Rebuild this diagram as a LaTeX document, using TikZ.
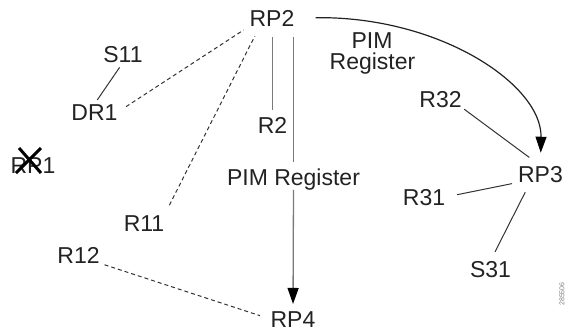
\documentclass[tikz,border=0pt]{standalone}
\usepackage{fontspec}
\setmainfont{Liberation Sans}
\usetikzlibrary{arrows.meta}
\definecolor{txt}{HTML}{222222}
\definecolor{ln}{HTML}{333333}
\definecolor{lg}{HTML}{7A7A7A}
\begin{document}
\begin{tikzpicture}[x=1pt,y=-1pt,
  lbl/.style={inner sep=0pt,anchor=base,font=\fontsize{23}{26}\selectfont,text=txt},
  link/.style={draw=ln,line width=1pt},
  dlink/.style={link,dash pattern=on 4pt off 3pt},
  glink/.style={draw=lg,line width=1.3pt},
  tipped/.style={-{Triangle[length=16pt,width=11pt,color=black]}}]
\useasboundingbox (0,0) rectangle (570,335);
% labels
\node[lbl] (RP2) at (272,26) {RP2};
\node[lbl] (S11) at (123,62) {S11};
\node[lbl] (DR1) at (94.5,120) {DR1};
\node[lbl] (R2) at (272.5,133) {R2};
\node[lbl] (RP1) at (33,173) {RP1};
\node[lbl] (pimR) at (293.5,185) {PIM Register};
\node[lbl] (R11) at (144,231) {R11};
\node[lbl] (R12) at (78.5,263) {R12};
\node[lbl] (RP4) at (293,327) {RP4};
\node[lbl] (pimA) at (372,48) {PIM};
\node[lbl] (pimB) at (372.5,69) {Register};
\node[lbl] (R32) at (440.5,107) {R32};
\node[lbl] (RP3) at (540.5,182) {RP3};
\node[lbl] (R31) at (424,205) {R31};
\node[lbl] (S31) at (490.5,277) {S31};
\node[inner sep=0pt,rotate=90,font=\fontsize{7}{8}\selectfont,text=gray] (fig) at (562,294) {285506};
% crossed-out RP1
\draw[black,line width=3pt] (19,148) -- (41,173);
\draw[black,line width=3pt] (41,148) -- (16,173);
% connectors
\draw[link,shorten <=6pt,shorten >=5pt] (S11.south) -- (DR1.north);
\draw[dlink,shorten <=10pt,shorten >=7pt] (DR1.east) -- (RP2.south west);
\draw[dlink,shorten <=11pt,shorten >=11pt] (R11.north east) -- (RP2.214);
\draw[glink,shorten <=11pt,shorten >=7pt] (R2.north |- RP2.south) -- (R2.north);
\draw[glink,shorten <=11pt,shorten >=6pt] (pimR.north |- RP2.south) -- (pimR.north);
\draw[glink,tipped,shorten >=7pt] (pimR.south) -- (RP4.north);
\draw[line width=1.2pt,draw=txt,tipped,shorten <=21pt,shorten >=13pt]
  (RP2.east) .. controls (440,16) and (542,85) .. (RP3.north);
\draw[link,shorten <=3pt,shorten >=14pt] (R32.south east) -- (RP3.north);
\draw[link,shorten <=12pt,shorten >=6pt] (R31.east) -- (RP3.south west);
\draw[link,shorten <=11pt,shorten >=10pt] (RP3.219) -- (S31.north);
\draw[dlink,shorten <=5pt,shorten >=11pt] (R12.south east) -- (RP4.west);
\end{tikzpicture}
\end{document}
